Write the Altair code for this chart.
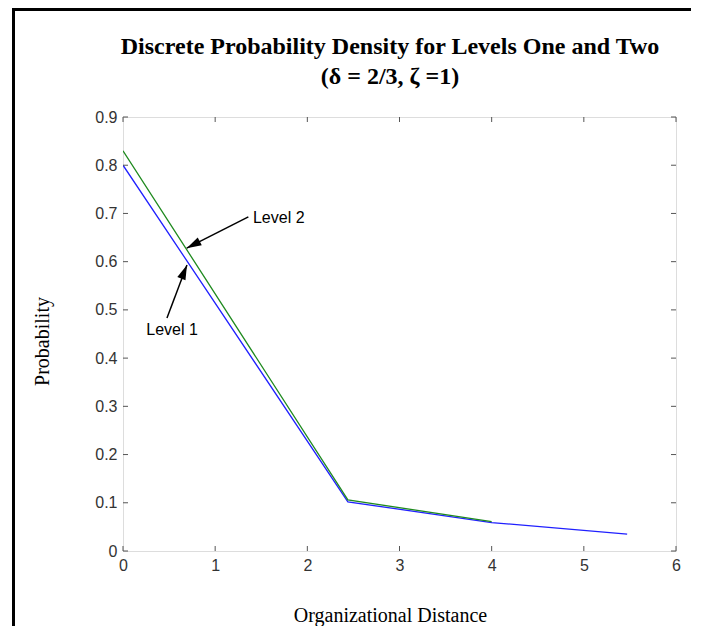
import altair as alt
import pandas as pd

# ---- data ----
level1_x = [0.0, 2.44, 4.0, 5.47]
level1_y = [0.800, 0.102, 0.059, 0.035]
level2_x = [0.0, 2.44, 4.0]
level2_y = [0.830, 0.106, 0.061]

x_ticks = [0, 1, 2, 3, 4, 5, 6]
y_ticks = [0.0, 0.1, 0.2, 0.3, 0.4, 0.5, 0.6, 0.7, 0.8, 0.9]

title_lines = ["Discrete Probability Density for Levels One and Two", "(δ = 2/3, ζ =1)"]

# annotations (data units)
ann_labels = ["Level 2", "Level 1"]
ann_text_x = [1.41, 0.532]
ann_text_y = [0.691, 0.458]
ann_align = ["left", "center"]
arrow_tail_x = [1.36, 0.477]
arrow_tail_y = [0.693, 0.483]
arrow_tip_x = [0.691, 0.694]
arrow_tip_y = [0.628, 0.593]
arrow_angle = [242.8, 22.3]

W, H = 553, 434
AXIS_COLOR = "#555555"
LABEL_COLOR = "#333333"

lines = pd.DataFrame(
    [{"x": x, "y": y, "level": "Level 1"} for x, y in zip(level1_x, level1_y)]
    + [{"x": x, "y": y, "level": "Level 2"} for x, y in zip(level2_x, level2_y)]
)
xt = pd.DataFrame({"t": x_ticks})
yt = pd.DataFrame({"t": y_ticks})
ann = pd.DataFrame({
    "label": ann_labels, "tx": ann_text_x, "ty": ann_text_y, "align": ann_align,
    "ax": arrow_tail_x, "ay": arrow_tail_y, "bx": arrow_tip_x, "by": arrow_tip_y,
    "angle": arrow_angle,
})
one = pd.DataFrame({"k": [0]})

xscale = alt.Scale(domain=[0, 6], nice=False, zero=False)
yscale = alt.Scale(domain=[0, 0.9], nice=False, zero=False)

xaxis = alt.Axis(
    values=x_ticks, format="~f", ticks=False, grid=False, domain=False, labelFlush=False,
    labelFont="Liberation Sans", labelFontSize=16, labelColor=LABEL_COLOR,
    labelPadding=6, title="Organizational Distance", titleFont="Liberation Serif",
    titleFontSize=20, titleFontWeight="normal", titleColor="black",
    titleX=267, titleY=64, titleBaseline="middle", titleAnchor="start", titleAlign="center",
)
yaxis = alt.Axis(
    values=y_ticks, format="~f", ticks=False, grid=False, domain=False, labelFlush=False,
    labelFont="Liberation Sans", labelFontSize=16, labelColor=LABEL_COLOR,
    labelPadding=6, title="Probability", titleFont="Liberation Serif",
    titleFontSize=20, titleFontWeight="normal", titleColor="black",
    titleX=-81, titleY=224, titleBaseline="middle", titleAlign="center", titleAngle=270,
)

base_lines = alt.Chart(lines).mark_line(strokeWidth=1.3, clip=True).encode(
    x=alt.X("x:Q", scale=xscale, axis=xaxis),
    y=alt.Y("y:Q", scale=yscale, axis=yaxis),
    color=alt.Color("level:N", scale=alt.Scale(domain=["Level 1", "Level 2"],
                                               range=["#2020ff", "#1f8a1f"]), legend=None),
    order=alt.Order("x:Q"),
)

tick_style = dict(color=AXIS_COLOR, strokeWidth=1)
xt_bottom = alt.Chart(xt).mark_rule(**tick_style).encode(
    x=alt.X("t:Q", scale=xscale), y=alt.value(H), y2=alt.value(H - 5))
xt_top = alt.Chart(xt).mark_rule(**tick_style).encode(
    x=alt.X("t:Q", scale=xscale), y=alt.value(0), y2=alt.value(5))
yt_left = alt.Chart(yt).mark_rule(**tick_style).encode(
    y=alt.Y("t:Q", scale=yscale), x=alt.value(0), x2=alt.value(5))
yt_right = alt.Chart(yt).mark_rule(**tick_style).encode(
    y=alt.Y("t:Q", scale=yscale), x=alt.value(W), x2=alt.value(W - 5))

shafts = alt.Chart(ann).mark_rule(color="black", strokeWidth=1.5).encode(
    x=alt.X("ax:Q", scale=xscale), y=alt.Y("ay:Q", scale=yscale),
    x2="bx:Q", y2="by:Q")
heads = alt.Chart(ann).mark_point(
    shape="M0,0L-0.36,1.2L0.36,1.2Z", filled=True, color="black", opacity=1, size=600
).encode(
    x=alt.X("bx:Q", scale=xscale), y=alt.Y("by:Q", scale=yscale),
    angle=alt.Angle("angle:Q", scale=None))
texts_left = alt.Chart(ann).transform_filter("datum.align == 'left'").mark_text(
    align="left", baseline="middle", font="Liberation Sans", fontSize=16, color="black"
).encode(x=alt.X("tx:Q", scale=xscale), y=alt.Y("ty:Q", scale=yscale), text="label:N")
texts_center = alt.Chart(ann).transform_filter("datum.align == 'center'").mark_text(
    align="center", baseline="middle", font="Liberation Sans", fontSize=16, color="black"
).encode(x=alt.X("tx:Q", scale=xscale), y=alt.Y("ty:Q", scale=yscale), text="label:N")

title_style = dict(align="center", baseline="middle", font="Liberation Serif",
                   fontSize=24, fontWeight="bold", color="black")
title1 = alt.Chart(one).mark_text(text=title_lines[0], **title_style).encode(
    x=alt.value(267), y=alt.value(-70))
title2 = alt.Chart(one).mark_text(text=title_lines[1], **title_style).encode(
    x=alt.value(267), y=alt.value(-40))

frame = alt.Chart(one).mark_rect(
    fill=None, stroke="black", strokeWidth=3
).encode(x=alt.value(-109.5), x2=alt.value(620), y=alt.value(-107.5), y2=alt.value(560))

chart = alt.layer(
    frame, base_lines, xt_bottom, xt_top, yt_left, yt_right, shafts, heads,
    texts_left, texts_center, title1, title2,
).properties(
    width=W, height=H,
    autosize=alt.AutoSizeParams(type="none"),
    padding={"left": 115, "top": 109, "right": 15, "bottom": 75},
).configure_view(stroke=AXIS_COLOR, strokeWidth=1.2).configure(background="white")

chart.save("out.html", embed_options={"renderer": "svg", "actions": False})
